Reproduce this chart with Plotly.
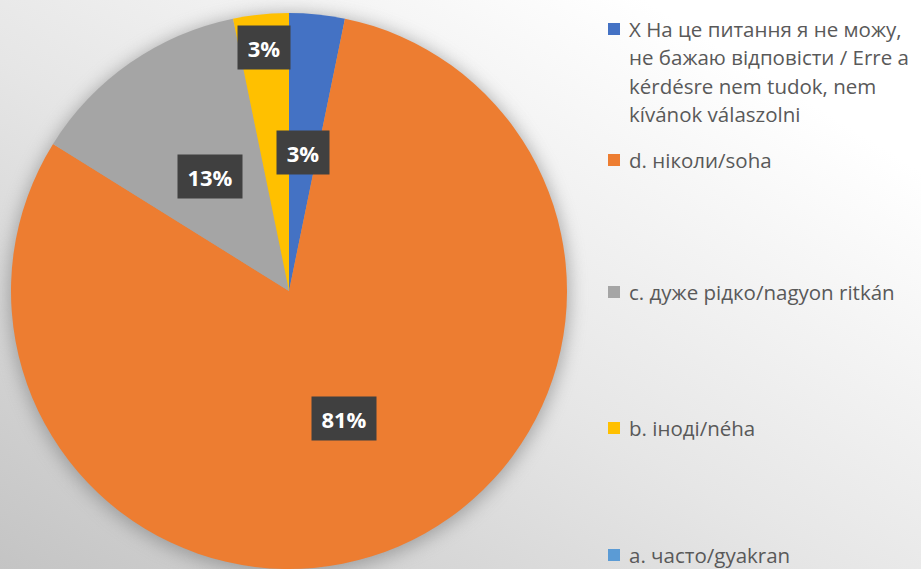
import base64
import math
import plotly.graph_objects as go

# data
categories = [
    'X На це питання я не можу,<br>не бажаю відповісти / Erre a<br>kérdésre nem tudok, nem<br>kívánok válaszolni',
    'd. ніколи/soha',
    'c. дуже рідко/nagyon ritkán',
    'b. іноді/néha',
    'a. часто/gyakran',
]
counts = [1, 25, 4, 1, 0]
colors = ['#4472C4', '#ED7D31', '#A5A5A5', '#FFC000', '#5B9BD5']

# layout constants (pixels)
W, H = 921, 569
pie_w, pie_h = 578, 556
R = min(pie_w, pie_h) / 2
cx, cy = pie_w / 2, H - pie_h / 2
label_r = [0.5, 0.5, 0.5, 0.88, 0.5]   # radial position of data labels (fraction of radius)
legend_y = [29, 160, 292, 428, 555]    # first-line centre of each legend entry
line_gap = 28.5
font_main = 'Open Sans'


def px(x, y):
    return x / W, 1 - y / H


# background: diagonal gradient + soft pie shadow
svg = f"""<svg xmlns='http://www.w3.org/2000/svg' width='{W}' height='{H}' viewBox='0 0 {W} {H}' preserveAspectRatio='none'>
<defs><linearGradient id='g' x1='0' y1='1' x2='1' y2='0'>
<stop offset='0' stop-color='#c4c4c4'/><stop offset='0.45' stop-color='#e6e6e6'/><stop offset='0.85' stop-color='#ffffff'/></linearGradient>
<filter id='b' x='-20%' y='-20%' width='140%' height='140%'><feGaussianBlur stdDeviation='9'/></filter></defs>
<rect width='{W}' height='{H}' fill='url(#g)'/>
<circle cx='{cx}' cy='{cy + 3}' r='{R + 2}' fill='#7a7a7a' opacity='0.6' filter='url(#b)'/>
</svg>"""
bg_uri = 'data:image/svg+xml;base64,' + base64.b64encode(svg.encode('utf-8')).decode('ascii')

fig = go.Figure()
fig.add_trace(go.Pie(
    labels=[c.split('<br>')[0] for c in categories],
    values=counts,
    marker=dict(colors=colors, line=dict(width=0)),
    sort=False,
    direction='clockwise',
    rotation=0,
    textinfo='none',
    hoverinfo='label+percent',
    showlegend=False,
    domain=dict(x=[0, pie_w / W], y=[0, pie_h / H]),
))

# data labels, placed at slice mid-angles computed from the values
total = sum(counts)
annotations = []
cum = 0
for i, v in enumerate(counts):
    if v <= 0:
        continue
    mid = (cum + v / 2) / total * 2 * math.pi
    cum += v
    lx = cx + label_r[i] * R * math.sin(mid)
    ly = cy - label_r[i] * R * math.cos(mid)
    xp, yp = px(lx, ly)
    pct = round(v / total * 100)
    annotations.append(dict(
        x=xp, y=yp, xref='paper', yref='paper', showarrow=False,
        text=f'<b>{pct}%</b>', font=dict(family=font_main, size=22, color='white'),
        bgcolor='#404040', width=62 if pct >= 10 else 50, height=41,
        xanchor='center', yanchor='middle',
    ))

# legend drawn manually so entries spread down the full height
shapes = []
for i, lab in enumerate(categories):
    y0 = legend_y[i]
    x0, y0p = px(608, y0 - 6)
    x1, y1p = px(620, y0 + 6)
    shapes.append(dict(type='rect', xref='paper', yref='paper', x0=x0, x1=x1,
                       y0=y1p, y1=y0p, fillcolor=colors[i], line=dict(width=0)))
    for j, line in enumerate(lab.split('<br>')):
        xp, yp = px(627, y0 + j * line_gap)
        annotations.append(dict(
            x=xp, y=yp, xref='paper', yref='paper', showarrow=False,
            text=line, font=dict(family=font_main, size=20.5, color='#595959'),
            xanchor='left', yanchor='middle',
        ))

fig.update_layout(
    width=W, height=H,
    margin=dict(l=0, r=0, t=0, b=0),
    paper_bgcolor='#f2f2f2',
    plot_bgcolor='rgba(0,0,0,0)',
    images=[dict(source=bg_uri, xref='paper', yref='paper', x=0, y=1, sizex=1, sizey=1,
                 xanchor='left', yanchor='top', sizing='stretch', layer='below')],
    annotations=annotations,
    shapes=shapes,
)

# page body has a default margin; drop it so the figure sits at the window corner
fig.write_html('out.html', config={'displayModeBar': False},
               post_script="document.body.style.margin='0px';")
